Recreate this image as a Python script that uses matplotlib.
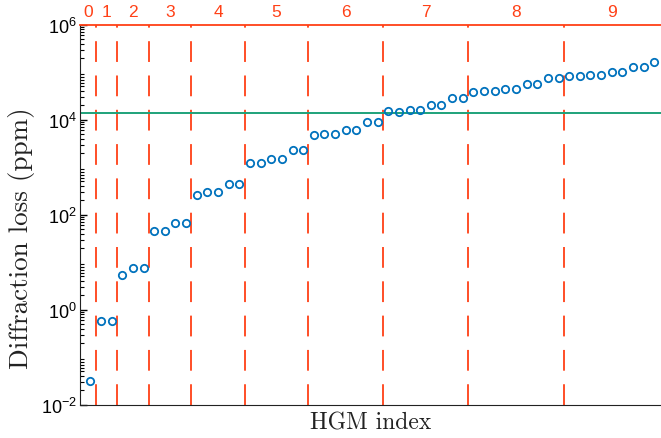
import numpy as np
import matplotlib
matplotlib.use("Agg")
import matplotlib.pyplot as plt

# mode orders and diffraction loss (ppm) of each HGM
orders = list(range(10))
loss_ppm = [0.032,
            0.59, 0.59,
            5.4, 7.4, 7.4,
            45, 45, 67, 67,
            257, 295, 295, 443, 443,
            1245, 1245, 1490, 1490, 2270, 2270,
            4830, 5000, 5000, 6150, 6150, 9080, 9080,
            15000, 14800, 16200, 16200, 20400, 20400, 29000, 29000,
            38700, 39600, 39600, 45200, 45200, 55600, 55600, 76600, 76600,
            81900, 83000, 88600, 88600, 101000, 101000, 127000, 127000, 164000]
threshold_ppm = 1.38e4

red = '#ff4016'
blue = '#0072bd'
green = '#1ea27a'

plt.rcParams['font.family'] = ['Liberation Sans', 'DejaVu Sans']

fig = plt.figure(figsize=(6.61, 4.39), dpi=100)
ax = fig.add_axes([0.1206, 0.0759, 0.8794, 0.8656])

idx = np.arange(1, len(loss_ppm) + 1)
xmin, xmax = 0, 54.63

# boundaries between mode orders (order n has n+1 modes)
ends = np.cumsum([n + 1 for n in orders])
bounds = ends[:-1] + 0.5
for b in bounds:
    ax.plot([b, b], [1e-2, 1e6], color=red, lw=1.3, dashes=(11.5, 7.5), zorder=1)

ax.axhline(threshold_ppm, color=green, lw=1.4, zorder=2)
ax.plot(idx, loss_ppm, 'o', mfc='none', mec=blue, ms=5.3, mew=1.3, zorder=3)

ax.set_yscale('log')
ax.set_ylim(1e-2, 1e6)
ax.set_xlim(xmin, xmax)
ax.set_yticks([1e-2, 1e0, 1e2, 1e4, 1e6])

# order labels centred over the visible part of each group
edges = np.concatenate([[xmin], bounds, [xmax]])
centers = (edges[:-1] + edges[1:]) / 2
ax.set_xticks(centers)
ax.set_xticklabels([str(n) for n in orders])
ax.tick_params(axis='x', bottom=False, labelbottom=False, top=True, labeltop=True,
               length=0, pad=4, labelcolor=red, labelsize=12.5)
ax.tick_params(axis='y', which='major', direction='in', length=5, width=1, labelsize=13, pad=2)
ax.tick_params(axis='y', which='minor', direction='in', length=3, width=0.8)

ax.spines['top'].set_color(red)
ax.spines['top'].set_linewidth(1.3)
ax.spines['right'].set_visible(False)
ax.spines['left'].set_color('#222222')
ax.spines['bottom'].set_color('#222222')

ax.set_xlabel('HGM index', fontfamily='cmr10', fontsize=17, labelpad=5, color='#222222')
ax.set_ylabel('Diffraction loss (ppm)', fontfamily='cmr10', fontsize=19.5, color='#222222')
ax.yaxis.set_label_coords(-0.077, 0.44)

fig.savefig('out.png', dpi=100)
